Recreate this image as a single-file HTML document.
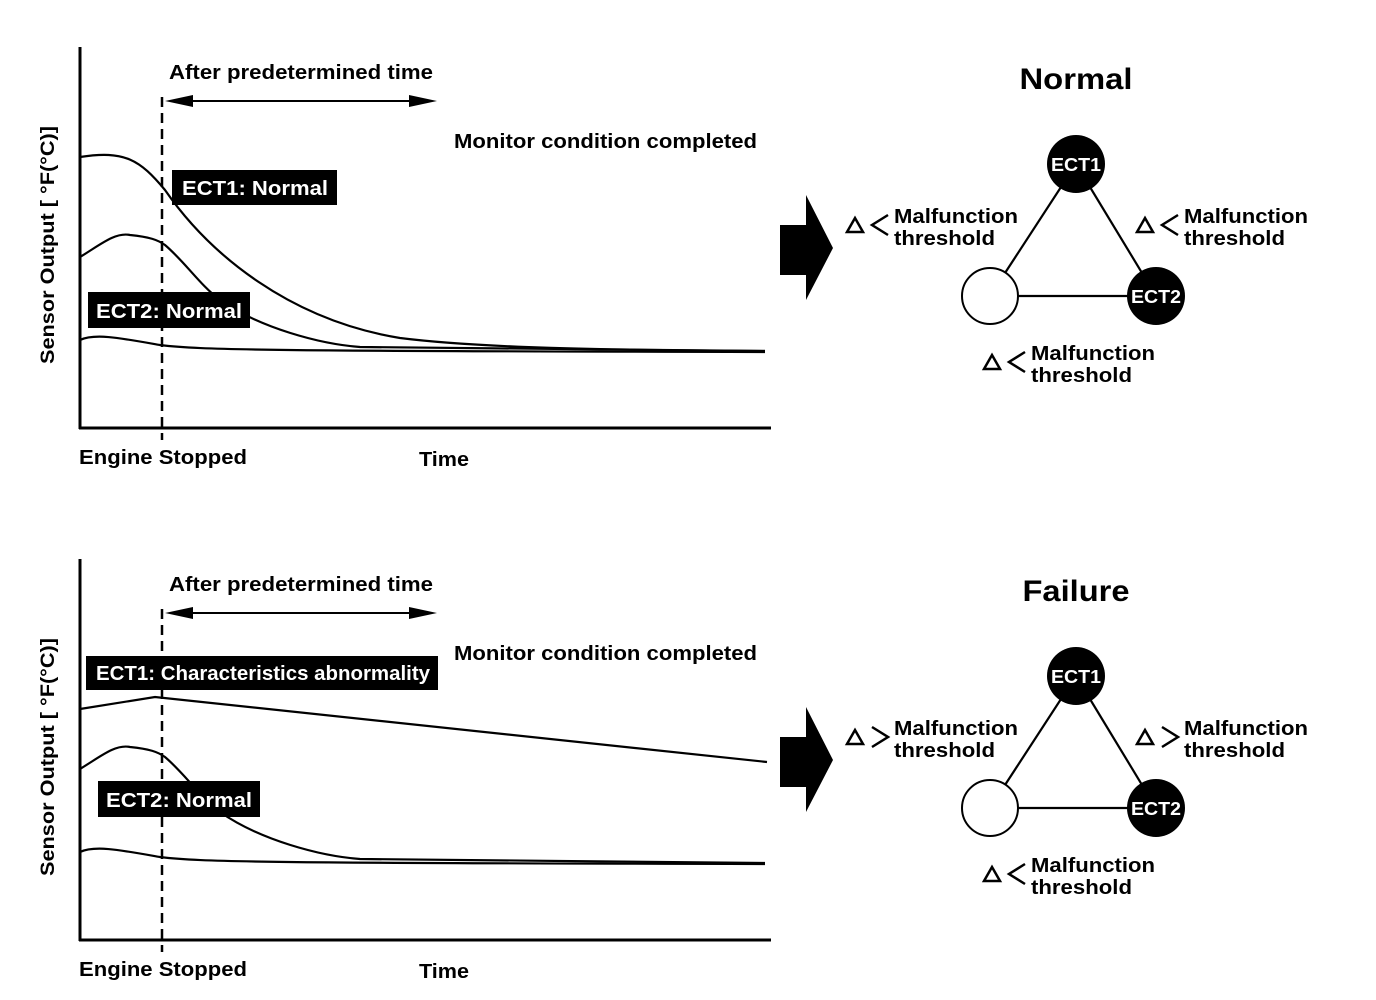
<!DOCTYPE html>
<html><head><meta charset="utf-8"><style>
html,body{margin:0;padding:0;background:#fff;}
svg{display:block;font-family:"Liberation Sans",sans-serif;font-weight:bold;}
</style></head><body>
<svg width="1376" height="1000" viewBox="0 0 1376 1000" xmlns="http://www.w3.org/2000/svg">
<g id="top">
 <line x1="80" y1="47" x2="80" y2="429" stroke="#000" stroke-width="3"/>
 <line x1="79" y1="428" x2="771" y2="428" stroke="#000" stroke-width="3"/>
 <line x1="162" y1="97" x2="162" y2="440" stroke="#000" stroke-width="2.5" stroke-dasharray="10,6"/>
 <line x1="170" y1="101" x2="430" y2="101" stroke="#000" stroke-width="2"/>
 <polygon points="165,101 193,95 193,107" fill="#000"/>
 <polygon points="437,101 409,95 409,107" fill="#000"/>
 <text x="169" y="79" font-size="20" textLength="264" lengthAdjust="spacingAndGlyphs">After predetermined time</text>
 <text x="454" y="148" font-size="20" textLength="303" lengthAdjust="spacingAndGlyphs">Monitor condition completed</text>
 <text x="79" y="464" font-size="20" textLength="168" lengthAdjust="spacingAndGlyphs">Engine Stopped</text>
 <text x="419" y="466" font-size="20" textLength="50" lengthAdjust="spacingAndGlyphs">Time</text>
 <text transform="translate(54,364) rotate(-90)" font-size="19" textLength="238" lengthAdjust="spacingAndGlyphs">Sensor Output [ °F(°C)]</text>
</g>
<g fill="none" stroke="#000" stroke-width="2.2">
 <path d="M80,157 C125,150 140,160 165,190 C210,255 290,320 400,338 C480,348 600,350 765,351"/>
 <path d="M80,257 C100,245 115,232 130,235 C150,237 158,240 165,245 C185,262 200,285 220,300 C260,328 320,344 360,347 L765,351"/>
 <path d="M80,340 C95,333 120,338 160,345 C200,350 260,351 765,352"/>
</g>
<rect x="172" y="170" width="165" height="35" fill="#000"/>
<text x="182" y="195" font-size="20" fill="#fff" textLength="146" lengthAdjust="spacingAndGlyphs">ECT1: Normal</text>
<rect x="88" y="292" width="162" height="36" fill="#000"/>
<text x="96" y="318" font-size="20" fill="#fff" textLength="146" lengthAdjust="spacingAndGlyphs">ECT2: Normal</text>

<use href="#top" transform="translate(0,512)"/>
<g fill="none" stroke="#000" stroke-width="2.2">
 <path d="M80,709 L155,697 L767,762"/>
 <path d="M80,769 C100,757 115,744 130,747 C150,749 158,752 165,757 C185,774 200,797 220,812 C260,840 320,856 360,859 L765,863"/>
 <path d="M80,852 C95,845 120,850 160,857 C200,862 260,863 765,864"/>
</g>
<rect x="86" y="656" width="352" height="34" fill="#000"/>
<text x="96" y="680" font-size="20" fill="#fff" textLength="334" lengthAdjust="spacingAndGlyphs">ECT1: Characteristics abnormality</text>
<rect x="98" y="781" width="162" height="36" fill="#000"/>
<text x="106" y="807" font-size="20" fill="#fff" textLength="146" lengthAdjust="spacingAndGlyphs">ECT2: Normal</text>

<g id="diag">
 <polygon points="780,225 806,225 806,195 833,248 806,300 806,275 780,275" fill="#000"/>
 <line x1="1076" y1="164" x2="990" y2="296" stroke="#000" stroke-width="2.2"/>
 <line x1="1076" y1="164" x2="1156" y2="296" stroke="#000" stroke-width="2.2"/>
 <line x1="990" y1="296" x2="1156" y2="296" stroke="#000" stroke-width="2.2"/>
 <circle cx="1076" cy="164" r="29" fill="#000"/>
 <circle cx="1156" cy="296" r="29" fill="#000"/>
 <circle cx="990" cy="296" r="28" fill="#fff" stroke="#000" stroke-width="2"/>
 <text x="1076" y="171" font-size="18" fill="#fff" text-anchor="middle" textLength="50" lengthAdjust="spacingAndGlyphs">ECT1</text>
 <text x="1156" y="303" font-size="18" fill="#fff" text-anchor="middle" textLength="50" lengthAdjust="spacingAndGlyphs">ECT2</text>
 <g font-size="20">
  <text x="894" y="223" textLength="124" lengthAdjust="spacingAndGlyphs">Malfunction</text>
  <text x="894" y="245" textLength="101" lengthAdjust="spacingAndGlyphs">threshold</text>
  <text x="1184" y="223" textLength="124" lengthAdjust="spacingAndGlyphs">Malfunction</text>
  <text x="1184" y="245" textLength="101" lengthAdjust="spacingAndGlyphs">threshold</text>
  <text x="1031" y="360" textLength="124" lengthAdjust="spacingAndGlyphs">Malfunction</text>
  <text x="1031" y="382" textLength="101" lengthAdjust="spacingAndGlyphs">threshold</text>
 </g>
 <g fill="none" stroke="#000" stroke-width="2.5">
  <polygon points="847,232 855,218 863,232"/>
  <polygon points="1137,232 1145,218 1153,232"/>
  <polygon points="984,369 992,355 1000,369"/>
 </g>
</g>
<g fill="none" stroke="#000" stroke-width="2.5">
 <polyline points="888,215 872,225 888,235"/>
 <polyline points="1178,215 1162,225 1178,235"/>
 <polyline points="1025,352 1009,362 1025,372"/>
 <polyline points="872,727 888,737 872,747"/>
 <polyline points="1162,727 1178,737 1162,747"/>
 <polyline points="1025,864 1009,874 1025,884"/>
</g>
<text x="1076" y="89" font-size="30" text-anchor="middle" textLength="113" lengthAdjust="spacingAndGlyphs">Normal</text>
<use href="#diag" transform="translate(0,512)"/>
<text x="1076" y="601" font-size="30" text-anchor="middle" textLength="107" lengthAdjust="spacingAndGlyphs">Failure</text>
</svg>
</body></html>
